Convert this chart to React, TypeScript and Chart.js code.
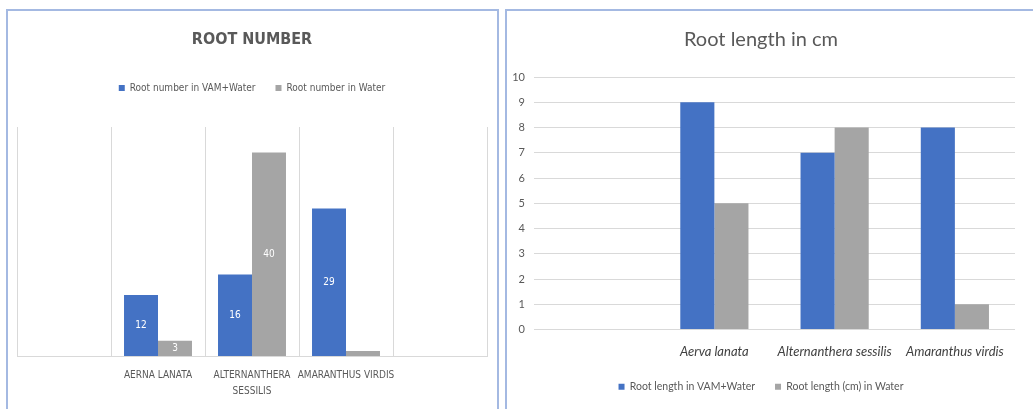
import React, { useEffect, useRef } from "react";
import { Chart, registerables } from "chart.js";

Chart.register(...registerables);

// ---------- data: Root number ----------
const numberTitle = "ROOT NUMBER";
const numberCategories: (string | string[])[] = [
  "",
  "AERNA LANATA",
  ["ALTERNANTHERA", "SESSILIS"],
  "AMARANTHUS VIRDIS",
  "",
];
const numberSeriesNames = ["Root number in VAM+Water", "Root number in Water"];
const numberVamWater = [null, 12, 16, 29, null];
const numberWater = [null, 3, 40, 1, null];
const numberAxisMax = 45;

// ---------- data: Root length ----------
const lengthTitle = "Root length in cm";
const lengthCategories = ["", "Aerva lanata", "Alternanthera sessilis", "Amaranthus virdis"];
const lengthSeriesNames = ["Root length in VAM+Water", "Root length (cm) in Water"];
const lengthVamWater = [null, 9, 7, 8];
const lengthWater = [null, 5, 8, 1];
const lengthAxisMin = 0;
const lengthAxisMax = 10;
const lengthAxisStep = 1;

const BLUE = "#4472c4";
const GRAY = "#a5a5a5";
const TEXT = "#595959";
const GRID = "#d9d9d9";
const NARROW = '"Liberation Sans Narrow", "DejaVu Sans Condensed", "Roboto", sans-serif';
const CAL = 'Lato, "Open Sans", sans-serif';

const barLabels = {
  id: "barLabels",
  afterDatasetsDraw(chart: any) {
    const ctx = chart.ctx;
    chart.data.datasets.forEach((ds: any, di: number) => {
      const meta = chart.getDatasetMeta(di);
      meta.data.forEach((bar: any, i: number) => {
        const v = ds.data[i];
        if (v == null) return;
        const { x, y, base } = bar.getProps(["x", "y", "base"], true);
        if (base - y < 10) return;
        ctx.save();
        ctx.fillStyle = "#ffffff";
        ctx.font = `10px ${NARROW}`;
        ctx.textAlign = "center";
        ctx.textBaseline = "middle";
        ctx.fillText(String(v), x, (y + base) / 2);
        ctx.restore();
      });
    });
  },
};

function legendSpacer(extra: number) {
  return {
    id: "legendSpacer",
    beforeInit(chart: any) {
      const legend = chart.legend;
      if (!legend) return;
      const fit = legend.fit;
      legend.fit = function () {
        fit.call(this);
        this.height += extra;
      };
    },
  };
}

function RootNumberChart() {
  const ref = useRef<HTMLCanvasElement>(null);
  useEffect(() => {
    const chart = new Chart(ref.current!, {
      type: "bar",
      data: {
        labels: numberCategories as any,
        datasets: [
          { label: numberSeriesNames[0], data: numberVamWater as any, backgroundColor: BLUE, categoryPercentage: 0.723, barPercentage: 1 },
          { label: numberSeriesNames[1], data: numberWater as any, backgroundColor: GRAY, categoryPercentage: 0.723, barPercentage: 1 },
        ],
      },
      options: {
        animation: false,
        responsive: false,
        layout: { padding: { left: 9, right: 10, top: 0, bottom: 0 } },
        plugins: {
          title: {
            display: true,
            text: numberTitle,
            color: TEXT,
            font: { family: NARROW, size: 16, weight: "bold" },
            padding: { top: 19, bottom: 13.8 },
          },
          legend: {
            position: "top",
            labels: { boxWidth: 6, boxHeight: 6, color: TEXT, font: { family: NARROW, size: 10 }, padding: 20 },
          },
          tooltip: { enabled: false },
        },
        scales: {
          x: {
            grid: { color: GRID, drawTicks: false, offset: true },
            border: { color: GRID },
            ticks: { color: TEXT, font: { family: NARROW, size: 10, lineHeight: 1.6 }, padding: 11, maxRotation: 0, autoSkip: false },
            afterFit: (s: any) => { s.height = 53; },
          },
          y: { display: false, min: 0, max: numberAxisMax },
        },
      } as any,
      plugins: [barLabels, legendSpacer(24)],
    });
    return () => chart.destroy();
  }, []);
  return <canvas ref={ref} width={489} height={398} style={{ display: "block" }} />;
}

function RootLengthChart() {
  const ref = useRef<HTMLCanvasElement>(null);
  useEffect(() => {
    const chart = new Chart(ref.current!, {
      type: "bar",
      data: {
        labels: lengthCategories,
        datasets: [
          { label: lengthSeriesNames[0], data: lengthVamWater as any, backgroundColor: BLUE, categoryPercentage: 0.567, barPercentage: 1 },
          { label: lengthSeriesNames[1], data: lengthWater as any, backgroundColor: GRAY, categoryPercentage: 0.567, barPercentage: 1 },
        ],
      },
      options: {
        animation: false,
        responsive: false,
        layout: { padding: { left: 0, right: 18, top: 0, bottom: 7 } },
        plugins: {
          title: {
            display: true,
            text: lengthTitle,
            color: TEXT,
            font: { family: CAL, size: 20, weight: "normal" },
            padding: { top: 17, bottom: 25 },
          },
          legend: {
            position: "bottom",
            labels: { boxWidth: 6, boxHeight: 6, color: TEXT, font: { family: CAL, size: 10.5 }, padding: 20 },
          },
          tooltip: { enabled: false },
        },
        scales: {
          x: {
            grid: { display: false, drawTicks: false },
            border: { display: false },
            ticks: { color: "#404040", font: { family: CAL, size: 13, style: "italic" }, padding: 15, maxRotation: 0, autoSkip: false },
            afterFit: (s: any) => { s.height = 32; },
          },
          y: {
            min: lengthAxisMin,
            max: lengthAxisMax,
            grid: { color: GRID, drawTicks: false },
            border: { display: false },
            ticks: { stepSize: lengthAxisStep, color: TEXT, font: { family: CAL, size: 11 }, padding: 9 },
            afterFit: (s: any) => { s.width = 27; },
          },
        },
      } as any,
    });
    return () => chart.destroy();
  }, []);
  return <canvas ref={ref} width={526} height={398} style={{ display: "block" }} />;
}

export default function App() {
  return (
    <div style={{ position: "fixed", left: 0, top: 0, width: 1033, height: 409, overflow: "hidden", background: "#fff" }}>
      <div style={{ position: "absolute", left: 6, top: 9, width: 489, height: 420, border: "2px solid #a4b9e2" }}>
        <RootNumberChart />
      </div>
      <div style={{ position: "absolute", left: 505, top: 9, width: 540, height: 420, border: "2px solid #a4b9e2" }}>
        <RootLengthChart />
      </div>
    </div>
  );
}
